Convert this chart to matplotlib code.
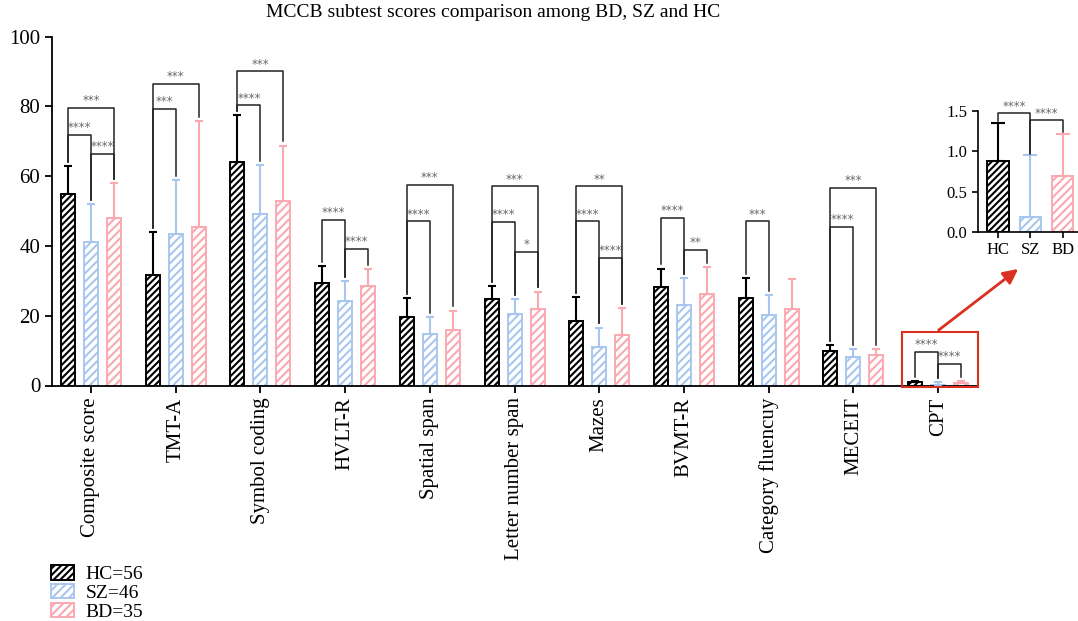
import matplotlib.pyplot as plt
from matplotlib.patches import Rectangle
import numpy as np

plt.rcParams['font.family'] = ['Liberation Serif', 'DejaVu Serif']
plt.rcParams['hatch.linewidth'] = 1.5

# datos
tests = ["Composite score", "TMT-A", "Symbol coding", "HVLT-R", "Spatial span",
         "Letter number span", "Mazes", "BVMT-R", "Category fluencuy", "MECEIT", "CPT"]
hc_mean = [55.0, 31.8, 64.2, 29.5, 19.7, 24.9, 18.6, 28.2, 25.0, 9.8, 0.88]
hc_sd = [8.0, 12.2, 13.3, 4.8, 5.4, 3.6, 6.8, 5.3, 5.9, 1.8, 0.47]
sz_mean = [41.0, 43.3, 49.2, 24.1, 14.8, 20.6, 11.0, 23.0, 20.1, 8.3, 0.18]
sz_sd = [11.0, 15.7, 14.0, 5.9, 4.7, 4.1, 5.6, 7.7, 5.9, 2.1, 0.77]
bd_mean = [48.0, 45.3, 52.8, 28.6, 15.9, 21.8, 14.4, 26.2, 21.8, 8.8, 0.70]
bd_sd = [10.0, 30.5, 16.0, 4.7, 5.6, 5.1, 7.8, 7.7, 8.8, 1.7, 0.51]
groups = ["HC", "SZ", "BD"]
group_n = [56, 46, 35]

# (prueba, grupo a, grupo b, altura, estrellas)
brackets = [
    (0, 0, 1, 71.8, '****'), (0, 0, 2, 79.7, '***'), (0, 1, 2, 66.4, '****'),
    (1, 0, 1, 79.3, '***'), (1, 0, 2, 86.5, '***'),
    (2, 0, 1, 80.3, '****'), (2, 0, 2, 90.1, '***'),
    (3, 0, 1, 47.4, '****'), (3, 1, 2, 39.2, '****'),
    (4, 0, 1, 47.1, '****'), (4, 0, 2, 57.6, '***'),
    (5, 0, 1, 46.9, '****'), (5, 0, 2, 57.1, '***'), (5, 1, 2, 38.4, '*'),
    (6, 0, 1, 47.1, '****'), (6, 0, 2, 57.1, '**'), (6, 1, 2, 36.5, '****'),
    (7, 0, 1, 48.1, '****'), (7, 1, 2, 38.8, '**'),
    (8, 0, 1, 47.1, '***'),
    (9, 0, 1, 45.5, '****'), (9, 0, 2, 56.6, '***'),
    (10, 0, 1, 9.6, '****'), (10, 1, 2, 6.2, '****'),
]
inset_brackets = [(0, 1, 1.48, '****'), (1, 2, 1.39, '****')]

colors = ['black', '#a9c7ee', '#fba9b1']
hatches = ['/////', '////', '////']
red = '#d9301f'

means = [hc_mean, sz_mean, bd_mean]
sds = [hc_sd, sz_sd, bd_sd]

fig = plt.figure(figsize=(10.78, 6.21), dpi=100)
ax = fig.add_axes([52 / 1078, 1 - 385.5 / 621, 926 / 1078, 348.8 / 621])

x = np.arange(len(tests))
off = 0.2716
w = 0.165
handles = []
for g in range(3):
    xs = x + (g - 1) * off
    b = ax.bar(xs, means[g], w, facecolor='white', edgecolor=colors[g],
               hatch=hatches[g], linewidth=1.4, zorder=2)
    ax.errorbar(xs, means[g], yerr=[np.zeros(len(x)), sds[g]], fmt='none',
                ecolor=colors[g], elinewidth=1.5, capsize=3, capthick=1.5, zorder=3)
    handles.append(b)

# corchetes de significancia
for t, a, bb, h, s in brackets:
    xa = t + (a - 1) * off
    xb = t + (bb - 1) * off
    ya = means[a][t] + sds[a][t] + 1.2
    yb = means[bb][t] + sds[bb][t] + 1.2
    ax.plot([xa, xa, xb, xb], [ya, h, h, yb], color='#222222', lw=1.1,
            zorder=4, clip_on=False)
    ax.annotate(s, ((xa + xb) / 2, h), xytext=(0, 0.5), textcoords='offset points',
                ha='center', va='bottom', fontsize=8.5, color='#666666',
                family='DejaVu Sans')

ax.set_xlim(-0.46, 10.47)
ax.set_ylim(0, 100)
ax.set_yticks([0, 20, 40, 60, 80, 100])
ax.set_xticks(x)
ax.set_xticklabels(tests, rotation=90)
ax.tick_params(labelsize=15, width=1.3, length=5)
for sp in ['top', 'right']:
    ax.spines[sp].set_visible(False)
for sp in ['left', 'bottom']:
    ax.spines[sp].set_linewidth(1.3)

fig.text(493 / 1078, 1 - 4 / 621, "MCCB subtest scores comparison among BD, SZ and HC",
         ha='center', va='top', fontsize=14)

# recuadro y flecha hacia el detalle de CPT
ax.add_patch(Rectangle((9.575, -0.4), 10.47 - 9.575, 15.8, fill=False,
                       edgecolor=red, lw=1.5, clip_on=False, zorder=5))
ax.annotate('', xy=(10.97, 33.9), xytext=(9.98, 15.4),
            arrowprops=dict(arrowstyle='-|>', color=red, lw=2, mutation_scale=22),
            annotation_clip=False)

# detalle CPT
ins = fig.add_axes([977.7 / 1078, 1 - 232 / 621, 100.3 / 1078, 121 / 621])
xi = np.arange(3)
for g in range(3):
    ins.bar(xi[g], means[g][10], 0.66, facecolor='white', edgecolor=colors[g],
            hatch=hatches[g], linewidth=1.4, zorder=2)
    ins.errorbar(xi[g], means[g][10], yerr=[[0], [sds[g][10]]], fmt='none',
                 ecolor=colors[g], elinewidth=1.5, capsize=5, capthick=1.5, zorder=3)
for a, bb, h, s in inset_brackets:
    ya = means[a][10] + sds[a][10] + 0.02
    yb = means[bb][10] + sds[bb][10] + 0.03
    ins.plot([a, a, bb, bb], [ya, h, h, yb], color='#222222', lw=1.1,
             zorder=4, clip_on=False)
    ins.annotate(s, ((a + bb) / 2, h), xytext=(0, 0), textcoords='offset points',
                 ha='center', va='bottom', fontsize=8.5, color='#666666',
                 family='DejaVu Sans', annotation_clip=False)
ins.set_xlim(-0.63, 2.48)
ins.set_ylim(0, 1.5)
ins.set_yticks([0, 0.5, 1.0, 1.5])
ins.set_yticklabels(['0.0', '0.5', '1.0', '1.5'])
ins.set_xticks(xi)
ins.set_xticklabels(groups)
ins.tick_params(axis='y', labelsize=12, width=1.2, length=4)
ins.tick_params(axis='x', labelsize=12, width=1.2, length=4)
for sp in ['top', 'right']:
    ins.spines[sp].set_visible(False)
for sp in ['left', 'bottom']:
    ins.spines[sp].set_linewidth(1.2)

labels = [f"{g}={n}" for g, n in zip(groups, group_n)]
fig.legend(handles, labels, loc='lower left', bbox_to_anchor=(35 / 1078, -0.025),
           frameon=False, fontsize=14, handlelength=1.2, handleheight=0.75,
           labelspacing=0.05, handletextpad=0.6, borderpad=0.3)

fig.savefig('out.png', dpi=100)
